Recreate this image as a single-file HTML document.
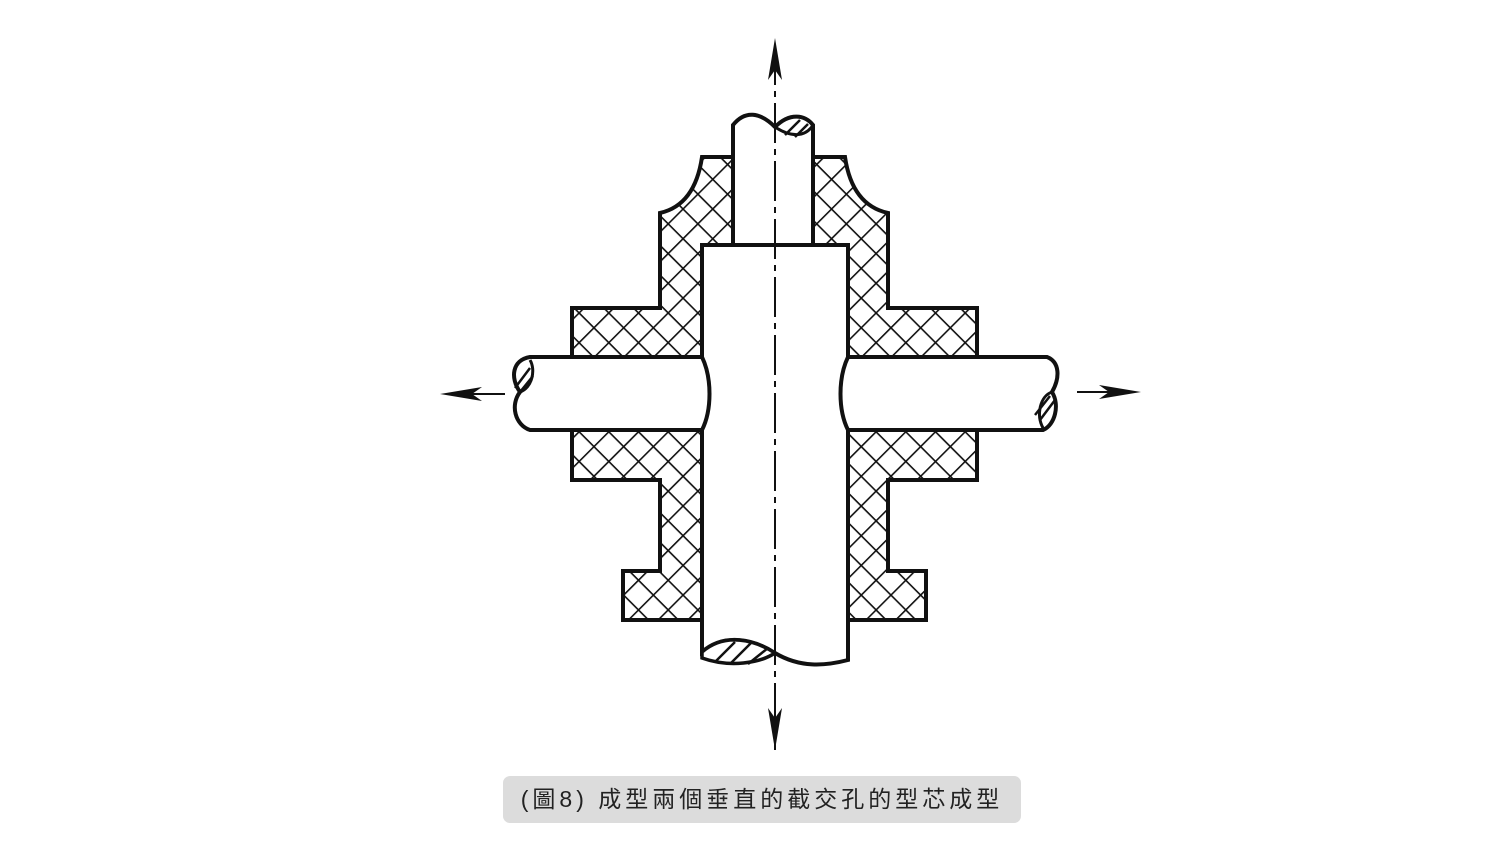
<!DOCTYPE html>
<html><head><meta charset="utf-8"><style>
html,body{margin:0;padding:0;background:#fff;width:1500px;height:844px;overflow:hidden;position:relative}
.cap{position:absolute;left:503px;top:776px;width:518px;height:47px;background:#dcdcdc;border-radius:7px;font-family:"Liberation Sans","Noto Sans CJK TC",sans-serif;font-size:23px;color:#222;letter-spacing:4px;text-align:center;line-height:47px}
</style></head><body>
<svg width="1500" height="844" style="position:absolute;left:0;top:0">
<defs>
<pattern id="h" width="21" height="21" patternUnits="userSpaceOnUse" patternTransform="rotate(45)">
<rect width="21" height="21" fill="#fff"/>
<line x1="0" y1="0" x2="21" y2="0" stroke="#111" stroke-width="3.2"/>
<line x1="0" y1="0" x2="0" y2="21" stroke="#111" stroke-width="3.2"/>
</pattern>
</defs>
<g stroke="#111" stroke-width="4" stroke-linejoin="miter">
<path fill="url(#h)" d="M733,157 L702,157 Q695,205 660,213 L660,308 L572,308 L572,480 L660,480 L660,571 L623,571 L623,620 L702,620 L702,245 L733,245 Z"/>
<path fill="url(#h)" d="M813,157 L845,157 Q852,205 888,213 L888,308 L977,308 L977,480 L888,480 L888,571 L926,571 L926,620 L848,620 L848,245 L813,245 Z"/>
<path fill="#fff" d="M702,245 L848,245 L848,660 C825,666 800,668 775,653 C755,640 725,632 702,652 Z"/>
<path fill="#fff" d="M733,245 L733,125 C745,110 760,112 775,127 C790,112 805,115 813,125 L813,245"/>
<line x1="700" y1="245" x2="850" y2="245"/>
<path fill="#fff" d="M702,357 L530,357 C512,360 510,378 520,392 C510,405 515,425 530,430 L702,430 C712,410 712,378 702,357 Z"/>
<path fill="#fff" d="M848,357 L1047,357 C1060,362 1060,378 1052,392 C1060,405 1055,425 1043,430 L848,430 C838,410 838,378 848,357 Z"/>
</g>
<g stroke="#111" stroke-width="2.5" fill="none">
<path d="M702,652 C725,632 755,640 775,653 C760,663 730,668 702,658 Z" fill="#fff" stroke-width="3.5"/>
<line x1="715" y1="662" x2="735" y2="642"/><line x1="730" y1="664" x2="752" y2="642"/><line x1="748" y1="664" x2="768" y2="648"/>
<path d="M775,127 C790,137 805,138 813,125" stroke-width="3"/>
<line x1="785" y1="135" x2="800" y2="120"/><line x1="795" y1="137" x2="808" y2="124"/>
<path d="M520,392 C532,388 536,370 530,360" stroke-width="3"/>
<line x1="515" y1="388" x2="530" y2="368"/><line x1="520" y1="392" x2="533" y2="376"/>
<path d="M1052,392 C1040,396 1036,415 1043,428" stroke-width="3"/>
<line x1="1040" y1="420" x2="1055" y2="400"/><line x1="1035" y1="415" x2="1050" y2="396"/>
</g>
<line x1="775" y1="45" x2="775" y2="750" stroke="#111" stroke-width="2" stroke-dasharray="40,6,6,6"/>
<g fill="#111">
<path d="M775,38 L768,80 L775,70 L782,80 Z"/>
<path d="M775,750 L768,708 L775,718 L782,708 Z"/>
<path d="M440,394 L482,387 L472,394 L482,401 Z"/>
<path d="M1141,392 L1099,385 L1109,392 L1099,399 Z"/>
</g>
<g stroke="#111" stroke-width="2">
<line x1="470" y1="394" x2="505" y2="394"/>
<line x1="1077" y1="392" x2="1110" y2="392"/>
</g>
</svg>
<div class="cap">(圖8) 成型兩個垂直的截交孔的型芯成型</div>
</body></html>
